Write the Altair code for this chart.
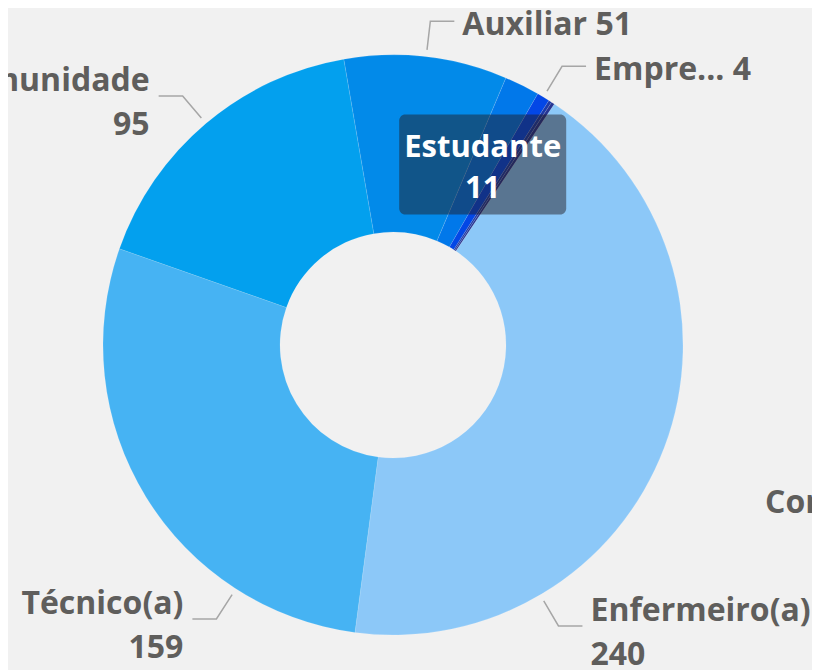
import math
import altair as alt
import pandas as pd

# ---- data -------------------------------------------------------------
categories = ["Enfermeiro(a)", "Técnico(a)", "Comunidade", "Auxiliar",
              "Estudante", "Empresário(a)", "Gestor(a)", "Outros"]
values = [240, 159, 95, 51, 11, 4, 1, 1]
colors = ["#8cc8f8", "#46b3f3", "#03a0ee", "#028ae9",
          "#0178ea", "#0347e6", "#1c3aa8", "#263592"]
labelled = ["Enfermeiro(a)", "Técnico(a)", "Comunidade", "Auxiliar", "Empresário(a)"]
two_line = ["Enfermeiro(a)", "Técnico(a)", "Comunidade"]
tooltip_category = "Estudante"
side_text = "Contagem"

# ---- layout -----------------------------------------------------------
W, H = 804, 662
CX, CY = 385, 337
R_OUT, R_IN = 290, 113
START_DEG = 33.8
ANCHOR_OVERRIDE = {"Técnico(a)": 212.8, "Enfermeiro(a)": 149.5}
R_LEAD0, R_LEAD1, LEAD_H = 297, 326, 24
FONT = "Open Sans"
LABEL_COLOR = "#5f5e5c"
FS = 32

total = sum(values)
df = pd.DataFrame({"cat": categories, "value": values, "order": range(len(values))})


def polar(deg, r):
    a = math.radians(deg)
    return CX + r * math.sin(a), CY - r * math.cos(a)


# angles derived from the data
mid_deg = {}
acc = 0
for c, v in zip(categories, values):
    a0 = START_DEG + acc / total * 360
    acc += v
    a1 = START_DEG + acc / total * 360
    mid_deg[c] = ((a0 + a1) / 2) % 360

start = math.radians(START_DEG)
arcs = alt.Chart(df).mark_arc(
    outerRadius=R_OUT, innerRadius=R_IN,
    stroke="#ffffff", strokeWidth=0.4, strokeOpacity=0.3
).encode(
    theta=alt.Theta("value:Q", stack=True,
                    scale=alt.Scale(domain=[0, total], range=[start, start + 2 * math.pi], nice=False)),
    color=alt.Color("cat:N", scale=alt.Scale(domain=categories, range=colors), legend=None),
    order=alt.Order("order:Q"),
    x=alt.value(CX), y=alt.value(CY),
)

lead_rows, lab_left, lab_right = [], [], []
for c in labelled:
    ang = ANCHOR_OVERRIDE.get(c, mid_deg[c])
    x0, y0 = polar(ang, R_LEAD0)
    x1, y1 = polar(ang, R_LEAD1)
    right = ang < 180
    x2 = x1 + LEAD_H if right else x1 - LEAD_H
    for i, (px, py) in enumerate([(x0, y0), (x1, y1), (x2, y1)]):
        lead_rows.append({"cat": c, "seq": i, "px": px, "py": py})
    v = values[categories.index(c)]
    name = c
    if c == "Empresário(a)":
        name = c[:5] + "..."
    tx = x2 + 8 if right else x2 - 9
    target = lab_right if right else lab_left
    if c in two_line:
        target.append({"tx": tx, "ty": y1 - 5, "t": name})
        target.append({"tx": tx, "ty": y1 + 39, "t": str(v)})
    else:
        target.append({"tx": tx, "ty": y1 + 14, "t": f"{name} {v}"})

leaders = alt.Chart(pd.DataFrame(lead_rows)).mark_line(
    color="#a6a6a6", strokeWidth=1.5
).encode(
    x=alt.X("px:Q", scale=None, axis=None),
    y=alt.Y("py:Q", scale=None, axis=None),
    detail="cat:N",
    order="seq:Q",
)


def text_layer(rows, align, size=FS, color=LABEL_COLOR):
    return alt.Chart(pd.DataFrame(rows)).mark_text(
        align=align, baseline="alphabetic", font=FONT, fontSize=size,
        fontWeight="bold", color=color
    ).encode(
        x=alt.X("tx:Q", scale=None, axis=None),
        y=alt.Y("ty:Q", scale=None, axis=None),
        text="t:N",
    )


labels_l = text_layer(lab_left, "right")
labels_r = text_layer(lab_right, "left")

# side text (partially visible at right edge)
side = text_layer([{"tx": 757, "ty": 505, "t": side_text}], "left")

# tooltip centred on the slice centroid
tc = tooltip_category
tx, ty = polar(mid_deg[tc], (R_OUT + R_IN) / 2)
tip_df = pd.DataFrame({"x": [tx - 83.5], "x2": [tx + 83.5], "y": [ty - 50], "y2": [ty + 50]})
tip_box = alt.Chart(tip_df).mark_rect(cornerRadius=6, fill="#221c21", opacity=0.48).encode(
    x=alt.X("x:Q", scale=None, axis=None), x2="x2:Q",
    y=alt.Y("y:Q", scale=None, axis=None), y2="y2:Q",
)
tip_text = text_layer(
    [{"tx": tx, "ty": ty - 8, "t": tc},
     {"tx": tx, "ty": ty + 33, "t": str(values[categories.index(tc)])}],
    "center", size=31, color="#ffffff",
)

chart = alt.layer(arcs, leaders, labels_l, labels_r, side, tip_box, tip_text).properties(
    width=W, height=H, padding=0, autosize="none", background="#f1f1f1"
).configure_view(stroke=None)

chart.save("out.html", embed_options={"renderer": "svg", "actions": False})
